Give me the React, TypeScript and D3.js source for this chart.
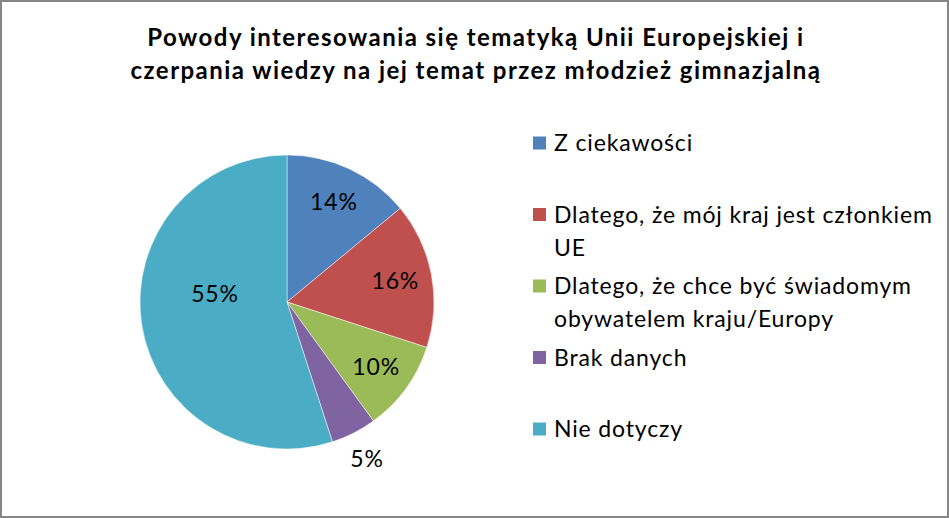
import React from "react";
import * as d3 from "d3";

const titleLines = [
  "Powody interesowania się tematyką Unii Europejskiej i",
  "czerpania wiedzy na jej temat przez młodzież gimnazjalną",
];
const categories = [
  "Z ciekawości",
  "Dlatego, że mój kraj jest członkiem UE",
  "Dlatego, że chce być świadomym obywatelem kraju/Europy",
  "Brak danych",
  "Nie dotyczy",
];
const legendLines = [
  ["Z ciekawości"],
  ["Dlatego, że mój kraj jest członkiem", "UE"],
  ["Dlatego, że chce być świadomym", "obywatelem kraju/Europy"],
  ["Brak danych"],
  ["Nie dotyczy"],
];
const values = [14, 16, 10, 5, 55];
const colors = ["#4F81BD", "#C0504D", "#9BBB59", "#8064A2", "#4BACC6"];

const W = 949;
const H = 518;
const FONT = "Lato, Carlito, Calibri, sans-serif";

export default function App() {
  const cx = 287;
  const cy = 302;
  const r = 147;
  const total = d3.sum(values);
  const pie = d3.pie<number>().sort(null).value((d) => d)(values);
  const arc = d3.arc<d3.PieArcDatum<number>>().innerRadius(0).outerRadius(r);
  const maxV = d3.max(values)!;

  const labelPos = (p: d3.PieArcDatum<number>) => {
    if (p.data === maxV) return [-0.49 * r, -0.055 * r];
    const k = p.data / total <= 0.06 ? 1.2 : 0.75;
    const a = (p.startAngle + p.endAngle) / 2;
    return [Math.sin(a) * r * k, -Math.cos(a) * r * k];
  };

  const legendX = 533;
  const legendY0 = 151;
  const legendStep = 71.5;
  const lineGap = 33;
  const fmt = d3.format(".0%");

  return (
    <svg
      width={W}
      height={H}
      style={{ position: "absolute", left: 0, top: 0, display: "block" }}
      fontFamily={FONT}
    >
      <rect x={0} y={0} width={W} height={H} fill="#fff" />
      <rect x={1} y={1} width={W - 2} height={H - 2} fill="none" stroke="#868686" strokeWidth={2} />
      {titleLines.map((t, i) => (
        <text
          key={i}
          x={476}
          y={46 + i * 33}
          textAnchor="middle"
          fontWeight="bold"
          fontSize={24}
          letterSpacing={1.45}
          fill="#000"
        >
          {t}
        </text>
      ))}
      <g transform={`translate(${cx},${cy})`}>
        {pie.map((p, i) => (
          <path key={i} d={arc(p)!} fill={colors[i]} stroke="#fff" strokeOpacity={0.6} strokeWidth={0.8} />
        ))}
        {pie.map((p, i) => {
          const [x, y] = labelPos(p);
          return (
            <text key={i} x={x} y={y + 8} textAnchor="middle" fontSize={23} letterSpacing={0.85} fill="#000">
              {fmt(p.data / total)}
            </text>
          );
        })}
      </g>
      {legendLines.map((lines, i) => {
        const by = legendY0 + i * legendStep;
        return (
          <g key={i}>
            <rect x={legendX} y={by - 14.5} width={13} height={13} fill={colors[i]}>
              <title>{categories[i]}</title>
            </rect>
            {lines.map((l, j) => (
              <text key={j} x={legendX + 21} y={by + j * lineGap} fontSize={23} letterSpacing={0.85} fill="#000">
                {l}
              </text>
            ))}
          </g>
        );
      })}
    </svg>
  );
}
